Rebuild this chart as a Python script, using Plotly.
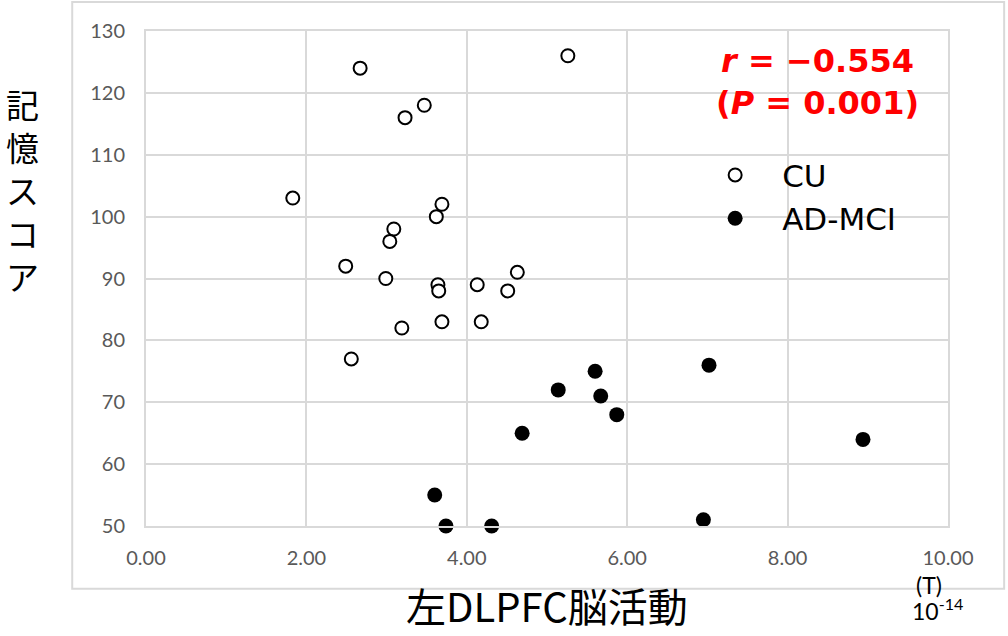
import plotly.graph_objects as go

# CU group (open circles)
cu_x = [1.83, 2.67, 3.23, 3.47, 5.26, 3.69, 3.62, 3.09, 3.04, 2.49, 2.99, 3.64, 3.65,
        4.13, 4.63, 4.51, 3.69, 4.18, 3.19, 2.56]
cu_y = [103, 124, 116, 118, 126, 102, 100, 98, 96, 92, 90, 89, 88,
        89, 91, 88, 83, 83, 82, 77]

# AD-MCI group (filled circles)
ad_x = [5.14, 5.60, 5.67, 5.87, 7.02, 4.69, 8.94, 3.60, 3.74, 4.31, 6.95]
ad_y = [72, 75, 71, 68, 76, 65, 64, 55, 50, 50, 51]

x_ticks = [0, 2, 4, 6, 8, 10]
y_ticks = [50, 60, 70, 80, 90, 100, 110, 120, 130]

y_title_chars = ["記", "憶", "ス", "コ", "ア"]

GRID = "#d9d9d9"
TICK_FONT = dict(family="Lato, Liberation Sans, sans-serif", size=20, color="#595959")
JP = "Noto Sans CJK JP, sans-serif"

fig = go.Figure()
fig.add_trace(go.Scatter(
    x=cu_x, y=cu_y, mode="markers", name="CU",
    marker=dict(size=13, color="white", line=dict(color="black", width=2)),
    cliponaxis=False,
))
fig.add_trace(go.Scatter(
    x=ad_x, y=ad_y, mode="markers", name="AD-MCI",
    marker=dict(size=15, color="black", line=dict(color="black", width=0)),
    cliponaxis=False,
))

fig.update_layout(
    width=1008, height=636,
    margin=dict(l=146, r=60, t=31, b=110),
    paper_bgcolor="white", plot_bgcolor="white",
    showlegend=True,
    legend=dict(
        x=0.676, y=0.763, xanchor="left", yanchor="top",
        font=dict(family="DejaVu Sans, Verdana, sans-serif", size=31, color="black"),
        bgcolor="rgba(0,0,0,0)", itemwidth=84, tracegroupgap=0,
    ),
    xaxis=dict(
        range=[0, 10], tickvals=x_ticks, tickformat=".2f",
        showgrid=True, gridcolor=GRID, gridwidth=2,
        showline=True, linecolor=GRID, linewidth=2, mirror=True,
        zeroline=False, ticks="", tickfont=TICK_FONT, ticklabelstandoff=13,
    ),
    yaxis=dict(
        range=[50, 130], tickvals=y_ticks,
        showgrid=True, gridcolor=GRID, gridwidth=2,
        showline=True, linecolor=GRID, linewidth=2, mirror=True,
        zeroline=False, ticks="", tickfont=TICK_FONT, ticklabelstandoff=15,
    ),
)

# outer chart border
fig.add_shape(type="rect", xref="paper", yref="paper",
              x0=-0.092, x1=1.07, y0=-0.127, y1=1.0586,
              line=dict(color=GRID, width=2), layer="below")

# correlation annotation
fig.add_annotation(
    xref="paper", yref="paper", x=0.837, y=0.897, xanchor="center", yanchor="middle",
    text="<i>r</i> = −0.554<br>(<i>P</i> = 0.001)", showarrow=False, align="center",
    font=dict(family="DejaVu Sans, Verdana, sans-serif", size=32, color="#ff0000", weight="bold"),
)

# y axis title (vertical, upright stacked characters)
for i, ch in enumerate(y_title_chars):
    fig.add_annotation(
        xref="paper", yref="paper", x=-0.154, y=(526 - (104 + 43 * i)) / 495,
        xanchor="center", yanchor="middle",
        text=ch, showarrow=False,
        font=dict(family=JP, size=33, color="black"),
    )

# x axis title
fig.add_annotation(
    xref="paper", yref="paper", x=0.5, y=-0.2222, xanchor="center", yanchor="bottom",
    text="左DLPFC脳活動", showarrow=False,
    font=dict(family=JP, size=40, color="black"),
)

# unit labels
fig.add_annotation(
    xref="paper", yref="paper", x=0.976, y=-0.119, xanchor="center", yanchor="middle",
    text="(T)", showarrow=False,
    font=dict(family="Lato, Liberation Sans, sans-serif", size=23, color="black"),
)
fig.add_annotation(
    xref="paper", yref="paper", x=0.9875, y=-0.168, xanchor="center", yanchor="middle",
    text="10<sup>-14</sup>", showarrow=False,
    font=dict(family="Lato, Liberation Sans, sans-serif", size=23, color="black"),
)

fig.write_html("out.html", config={"displayModeBar": False},
               post_script="document.body.style.margin='0px';")
